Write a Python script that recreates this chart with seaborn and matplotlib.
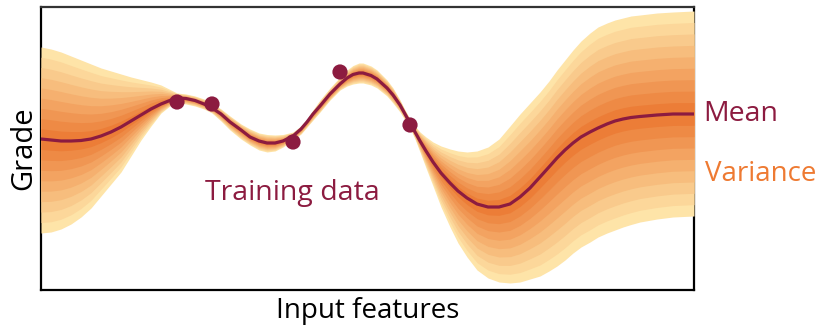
import numpy as np
import pandas as pd
import matplotlib
matplotlib.use("Agg")
import matplotlib.pyplot as plt
import seaborn as sns

# values (arbitrary units)
input_x = [0, 10, 20, 30, 40, 50, 60, 70, 80, 90, 100, 110, 120, 130,
           136, 145, 154, 163, 171, 180, 189,
           200, 209, 218, 226, 234, 242, 252,
           260, 266, 272, 279, 289, 299,
           306, 312, 318, 322, 330, 336,
           346, 352, 359, 364, 369, 374, 379,
           385, 392, 400, 409, 417, 426, 436,
           447, 458, 469, 479, 489, 499,
           508, 516, 524, 532, 540, 549,
           557, 566, 574, 582, 590, 599,
           616, 632, 653]
mean_grade = [151, 150, 149, 149, 149.5, 151, 154, 158, 163, 169, 175, 181, 186, 190,
              192, 191.5, 189.5, 186, 182, 176, 168,
              160, 153, 149, 147, 147, 149, 154,
              161, 168, 176, 184, 196, 206,
              212, 215.5, 217, 217, 214.5, 211,
              202, 195, 185, 176, 167, 158, 149,
              139, 128, 117, 107, 99, 92, 86,
              83, 83, 86, 93, 102, 113,
              123, 132, 140, 147, 153, 158,
              162, 166, 169, 171, 172.5, 173.5,
              175, 176, 176]
upper_grade = [243, 241, 238, 234, 230, 226, 222, 219, 216, 213, 210.5, 208, 205, 200,
               197, 196, 194, 191, 187, 181, 174,
               166, 161, 157, 155.5, 155, 155.5, 158,
               164, 171, 180, 190, 202, 213,
               220, 224.5, 227, 227, 224, 220,
               210, 202, 190, 180, 171, 164, 158,
               153, 148, 144, 141, 139, 138, 139,
               143, 151, 164, 176, 187, 198,
               209, 220, 230, 240, 249, 257,
               263, 267, 270, 272, 274, 275,
               277, 278, 279]
lower_grade = [57, 58, 61, 66, 73, 82, 94, 106, 118, 134, 150, 164, 177, 185,
               187, 186, 184, 181, 177, 169, 160,
               151, 145, 140, 138, 139, 143, 150,
               156, 163, 170, 178, 190, 200,
               204, 206, 207, 207, 205, 202,
               194, 187, 178, 170, 162, 151, 138,
               122, 104, 83, 63, 47, 33, 20,
               12, 8, 7, 8, 11, 14,
               19, 24, 30, 37, 43, 48,
               53, 57, 60, 63, 65.5, 68,
               71, 73, 74]

train_x = [136, 171, 252, 299, 369]
train_y = [188, 186, 148, 218, 165]

n_bands = 9
dark_red = "#8C1B40"
orange = "#EE7A32"

sns.set_style("white")
plt.rcParams['font.family'] = ['Open Sans', 'DejaVu Sans']

df = pd.DataFrame({"x": input_x, "mean": mean_grade,
                   "upper": upper_grade, "lower": lower_grade})
pts = pd.DataFrame({"x": train_x, "y": train_y})

fig = plt.figure(figsize=(8.18, 3.26), dpi=100)
ax = fig.add_axes([41 / 818, 36 / 326, 653 / 818, 283 / 326])

colors = sns.blend_palette(["#FEE4A8", "#EC7D37"], n_bands)
m = df["mean"].to_numpy(float)
up = df["upper"].to_numpy(float)
lo = df["lower"].to_numpy(float)
for k in range(n_bands, 0, -1):
    f = k / n_bands
    ax.fill_between(df["x"], m + (up - m) * f, m - (m - lo) * f,
                    color=colors[n_bands - k], lw=0, zorder=3)

sns.lineplot(data=df, x="x", y="mean", color=dark_red, lw=2.3, ax=ax, zorder=4)
sns.scatterplot(data=pts, x="x", y="y", color=dark_red, s=120, edgecolor="none",
                ax=ax, zorder=5, clip_on=False)

ax.set_xlim(0, 653)
ax.set_ylim(0, 283)
ax.set_xticks([])
ax.set_yticks([])
ax.set_xlabel("Input features", fontsize=20, labelpad=5, color="black")
ax.set_ylabel("Grade", fontsize=21, labelpad=2, color="black")
for side in ["left", "bottom", "right", "top"]:
    ax.spines[side].set_color("black")
    ax.spines[side].set_linewidth(1.6)
ax.spines["top"].set_color("#333333")

ax.text(164, 97, "Training data", color=dark_red, fontsize=20.5, va="center", ha="left")
ax.text(662, 176, "Mean", color=dark_red, fontsize=20.5, va="center", ha="left", clip_on=False)
ax.text(664, 116, "Variance", color=orange, fontsize=20, va="center", ha="left", clip_on=False)

fig.savefig("out.png", dpi=100)
